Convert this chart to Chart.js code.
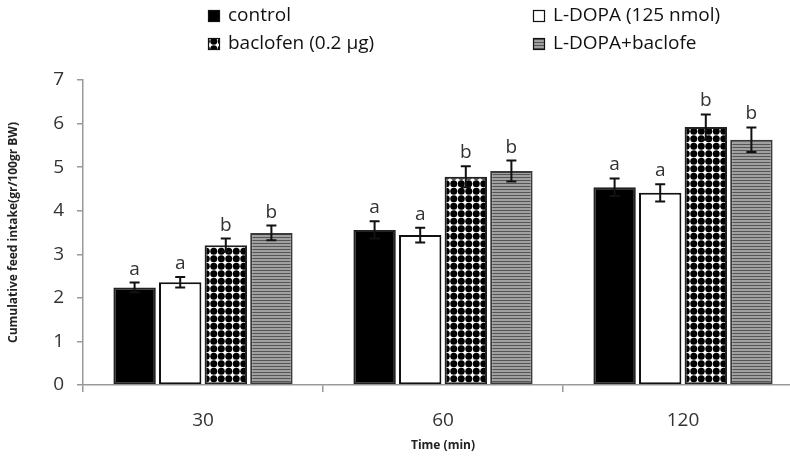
<!DOCTYPE html>
<html>
<head>
<meta charset="utf-8">
<script src="https://cdn.jsdelivr.net/npm/chart.js@4.4.0/dist/chart.umd.min.js"></script>
<style>
  html, body { margin: 0; padding: 0; background: #fff; overflow: hidden; }
  #wrap { width: 790px; height: 459px; overflow: hidden; position: relative; }
  #box { width: 806px; height: 459px; position: absolute; left: 0; top: 0; }
</style>
</head>
<body>
<div id="wrap"><div id="box"><canvas id="my-chart"></canvas></div></div>
<script>
'use strict';

// *************** DATA
let timeLabels = ['30', '60', '120'];
let seriesNames = ['control', 'L-DOPA (125 nmol)', 'baclofen (0.2 \u00b5g)', 'L-DOPA+baclofe'];

let controlVals = [2.24, 3.56, 4.54];
let ldopaVals = [2.36, 3.44, 4.41];
let baclofenVals = [3.21, 4.78, 5.92];
let comboVals = [3.49, 4.91, 5.63];

let controlErr = [0.11, 0.20, 0.20];
let ldopaErr = [0.12, 0.17, 0.20];
let baclofenErr = [0.15, 0.24, 0.29];
let comboErr = [0.17, 0.24, 0.28];

let controlSig = ['a', 'a', 'a'];
let ldopaSig = ['a', 'a', 'a'];
let baclofenSig = ['b', 'b', 'b'];
let comboSig = ['b', 'b', 'b'];

let yTicks = [0, 1, 2, 3, 4, 5, 6, 7];

// *************** PATTERNS
function dotPattern() {
  let c = document.createElement('canvas');
  c.width = 15; c.height = 15;
  let g = c.getContext('2d');
  g.fillStyle = '#fff';
  g.fillRect(0, 0, 15, 15);
  g.fillStyle = '#000';
  let pts = [[3.75, 3.75], [11.25, 3.75], [3.75, 11.25], [11.25, 11.25]];
  pts.forEach(function (p) {
    g.beginPath();
    g.arc(p[0], p[1], 3.5, 0, Math.PI * 2);
    g.fill();
  });
  return g.createPattern(c, 'repeat');
}

function stripePattern() {
  let c = document.createElement('canvas');
  c.width = 4; c.height = 3;
  let g = c.getContext('2d');
  g.fillStyle = '#a0a0a0';
  g.fillRect(0, 0, 4, 3);
  g.fillStyle = '#555';
  g.fillRect(0, 0, 4, 1);
  return g.createPattern(c, 'repeat');
}

let dots = dotPattern();
let stripes = stripePattern();

let fills = ['#000', '#fff', dots, stripes];
let borders = ['#222', '#111', '#222', '#3a3a3a'];
let errs = [controlErr, ldopaErr, baclofenErr, comboErr];
let sigs = [controlSig, ldopaSig, baclofenSig, comboSig];

// *************** PLUGINS
let errorBars = {
  id: 'errorBars',
  afterDatasetsDraw(chart) {
    let ctx = chart.ctx;
    let y = chart.scales.y;
    ctx.save();
    ctx.strokeStyle = '#111';
    ctx.lineWidth = 2;
    ctx.fillStyle = '#333';
    ctx.font = '19px "Open Sans"';
    ctx.textAlign = 'center';
    ctx.textBaseline = 'alphabetic';
    chart.data.datasets.forEach(function (ds, i) {
      let meta = chart.getDatasetMeta(i);
      meta.data.forEach(function (bar, j) {
        let v = ds.data[j];
        let e = errs[i][j];
        let top = y.getPixelForValue(v + e);
        let bot = y.getPixelForValue(v - e);
        let x = bar.x;
        ctx.beginPath();
        ctx.moveTo(x, top); ctx.lineTo(x, bot);
        ctx.moveTo(x - 5, top); ctx.lineTo(x + 5, top);
        ctx.moveTo(x - 5, bot); ctx.lineTo(x + 5, bot);
        ctx.stroke();
        ctx.fillText(sigs[i][j], x, top - 8);
      });
    });
    ctx.restore();
  }
};

let topLegend = {
  id: 'topLegend',
  afterDraw(chart) {
    let ctx = chart.ctx;
    let spots = [[208, 16], [533, 16], [208, 44], [533, 44]];
    ctx.save();
    ctx.font = '19px "Open Sans"';
    ctx.textBaseline = 'middle';
    ctx.fillStyle = '#111';
    chart.data.datasets.forEach(function (ds, i) {
      let s = spots[i];
      ctx.fillStyle = ds.backgroundColor;
      ctx.fillRect(s[0], s[1] - 6, 12, 12);
      ctx.strokeStyle = '#111';
      ctx.lineWidth = 1.2;
      ctx.strokeRect(s[0] + 0.5, s[1] - 5.5, 11, 11);
      ctx.fillStyle = '#111';
      ctx.textAlign = 'left';
      ctx.fillText(ds.label, s[0] + 20, s[1]);
    });
    ctx.restore();
  }
};

// *************** CHART
let datasets = [controlVals, ldopaVals, baclofenVals, comboVals].map(function (vals, i) {
  return {
    label: seriesNames[i],
    data: vals,
    backgroundColor: fills[i],
    borderColor: borders[i],
    borderWidth: 2,
    borderSkipped: false,
    barPercentage: 0.93,
    categoryPercentage: 0.76
  };
});

let ctx = document.getElementById('my-chart').getContext('2d');
let myChart = new Chart(ctx, {
  type: 'bar',
  data: { labels: timeLabels, datasets: datasets },
  options: {
    responsive: true,
    maintainAspectRatio: false,
    animation: false,
    layout: { padding: { top: 80, left: 6, right: 3, bottom: 2 } },
    plugins: { legend: { display: false }, tooltip: { enabled: false } },
    scales: {
      x: {
        grid: { display: true, drawOnChartArea: false, color: '#999', tickLength: 7, lineWidth: 1.5 },
        border: { color: '#999', width: 1.5 },
        ticks: { color: '#333', font: { family: 'Open Sans', size: 19 }, padding: 17 },
        title: {
          display: true, text: 'Time (min)', color: '#222',
          font: { family: 'Open Sans', size: 12, weight: 'bold' }, padding: { top: 0, bottom: 4 }
        },
        afterFit(scale) { scale.height = 72; }
      },
      y: {
        min: 0, max: 7,
        afterBuildTicks(scale) { scale.ticks = yTicks.map(function (v) { return { value: v }; }); },
        grid: { display: true, drawOnChartArea: false, color: '#999', tickLength: 6, lineWidth: 1.5 },
        border: { color: '#999', width: 1.5 },
        ticks: { color: '#333', font: { family: 'Open Sans', size: 19 }, padding: 13 },
        title: {
          display: true, text: 'Cumulative feed intake(gr/100gr BW)', color: '#222',
          font: { family: 'Open Sans', size: 12, weight: 'bold' }, padding: 0
        },
        afterFit(scale) { scale.width = 77; }
      }
    }
  },
  plugins: [errorBars, topLegend]
});
</script>
</body>
</html>
